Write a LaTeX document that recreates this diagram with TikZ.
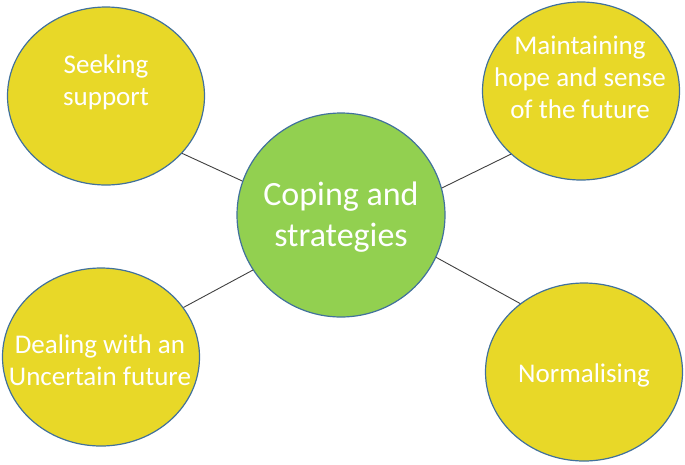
\documentclass[tikz,border=0pt]{standalone}
\usepackage{fontspec}
\setmainfont{Carlito}
\usetikzlibrary{shapes.geometric}
\definecolor{bubbleyellow}{RGB}{232,216,40}
\definecolor{bubblegreen}{RGB}{146,208,80}
\definecolor{bubbleedge}{RGB}{65,113,156}
\definecolor{linkgray}{RGB}{64,64,64}
\tikzset{
  outerbubble/.style={ellipse, draw=bubbleedge, line width=1.2pt, fill=bubbleyellow,
    minimum width=197pt, minimum height=178pt, inner sep=0pt},
  centerbubble/.style={ellipse, draw=bubbleedge, line width=1.2pt, fill=bubblegreen,
    minimum width=208pt, minimum height=204pt, inner sep=0pt},
  outertext/.style={text=white, align=center, inner sep=0pt,
    font=\fontsize{27}{32}\selectfont},
  centertext/.style={text=white, align=center, inner sep=0pt,
    font=\fontsize{34}{41}\selectfont},
  link/.style={draw=linkgray, line width=0.9pt}
}
\begin{document}
\begin{tikzpicture}[x=1pt,y=-1pt]
\useasboundingbox (0,0) rectangle (685,464);
% links first (under bubbles)
\node[centerbubble] (c) at (341,215) {};
\node[outerbubble] (tl) at (106,96) {};
\node[outerbubble] (tr) at (581,91) {};
\node[outerbubble] (bl) at (101,357) {};
\node[outerbubble] (br) at (584,372) {};
\draw[link] (c.161) -- (tl.-37);
\draw[link] (c.15) -- (tr.222);
\draw[link] (c.212) -- (bl.31);
\draw[link] (c.-24) -- (br.133);
\node[centertext] (ct) at (341,217) {Coping and\\strategies};
\node[outertext] (tlt) at (106,82) {Seeking\\support};
\node[outertext] (trt) at (580,77) {Maintaining\\hope and sense\\of the future};
\node[outertext] (blt) at (100,360) {Dealing with an\\Uncertain future};
\node[outertext] (brt) at (584,375) {Normalising};
\end{tikzpicture}
\end{document}
